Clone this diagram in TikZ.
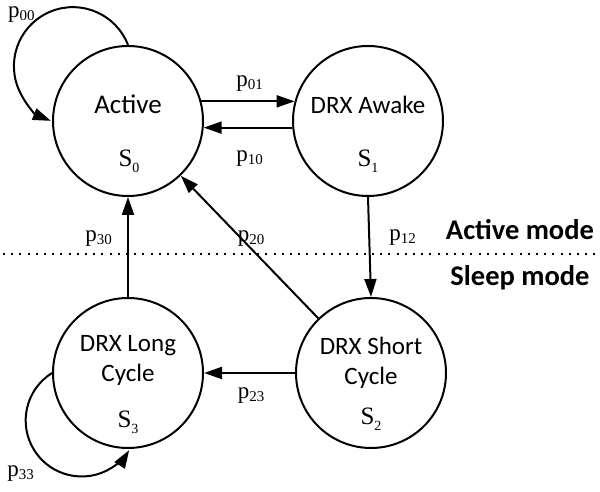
\documentclass[tikz,border=0pt]{standalone}
\usepackage{fontspec}
\setmainfont{Liberation Serif}
\newfontfamily\calfont{Carlito}
\usetikzlibrary{arrows.meta,calc}
\newcommand\mylab[1]{p\raisebox{-3pt}{\fontsize{15}{15}\selectfont #1}}
\newcommand\mystate[1]{S\raisebox{-6pt}{\fontsize{14}{14}\selectfont #1}}
\begin{document}
\begin{tikzpicture}[x=1pt,y=1pt,
  state/.style={circle,draw,line width=2pt,minimum size=150pt,inner sep=0pt},
  stxt/.style={font=\calfont\fontsize{25}{29}\selectfont,inner sep=0pt,anchor=base},
  sid/.style={inner sep=0pt,anchor=base,font=\fontsize{25}{25}\selectfont},
  plab/.style={inner sep=0pt,anchor=base,font=\fontsize{23}{23}\selectfont},
  modetxt/.style={inner sep=0pt,anchor=base,font=\calfont\bfseries\fontsize{28.5}{28.5}\selectfont},
  arr/.style={line width=2pt,-{Triangle[length=18pt,width=12pt]}},
]
\useasboundingbox (0,0) rectangle (600,492);

% states
\node[state] (S0) at (128,371) {};
\node[state] (S1) at (368,371) {};
\node[state] (S2) at (371,119) {};
\node[state] (S3) at (128,119) {};

% state texts
\node[stxt,font=\calfont\fontsize{27}{29}\selectfont] (t0) at (128,378.7) {Active};
\node[sid] (i0) at (129,325) {\mystate{0}};
\node[stxt] (t1) at (368,378) {DRX Awake};
\node[sid] (i1) at (368,325) {\mystate{1}};
\node[stxt] (t2a) at (371,137) {DRX Short};
\node[stxt] (t2b) at (371,107) {Cycle};
\node[sid] (i2) at (371,67) {\mystate{2}};
\node[stxt] (t3a) at (128,140.3) {DRX Long};
\node[stxt] (t3b) at (128,110.3) {Cycle};
\node[sid] (i3) at (128,64) {\mystate{3}};

% mode separator
\coordinate (dl) at (3,238);
\coordinate (dr) at (600,238);
\draw[line width=2pt,dash pattern=on 2pt off 6.2pt] (dl) -- (dr);
\node[modetxt] (am) at (520,252.7) {Active mode};
\node[modetxt] (sm) at (520,206) {Sleep mode};

% transitions
\draw[arr] (S0.north) arc[start angle=21,end angle=248,radius=59];
\draw[arr] (S0.15) -- (S1.165);
\draw[arr] (S1.185) -- (S0.-5);
\draw[arr] (S1.south) -- (S2.north);
\draw[arr] (S2) -- (S0);
\draw[arr] (S3) -- (S0);
\draw[arr] (S2) -- (S3);
\draw[arr] (S3.west) arc[start angle=122,end angle=328,radius=56];

% labels
\node[plab] (l00) at (21.5,474) {\mylab{00}};
\node[plab] (l01) at (249.5,405.5) {\mylab{01}};
\node[plab] (l10) at (249.5,330.5) {\mylab{10}};
\node[plab] (l12) at (402.5,251.2) {\mylab{12}};
\node[plab] (l30) at (98.5,250.5) {\mylab{30}};
\node[plab] (l20) at (251,250.5) {\mylab{20}};
\node[plab] (l23) at (251,93) {\mylab{23}};
\node[plab] (l33) at (20.5,15.2) {\mylab{33}};
\end{tikzpicture}
\end{document}
